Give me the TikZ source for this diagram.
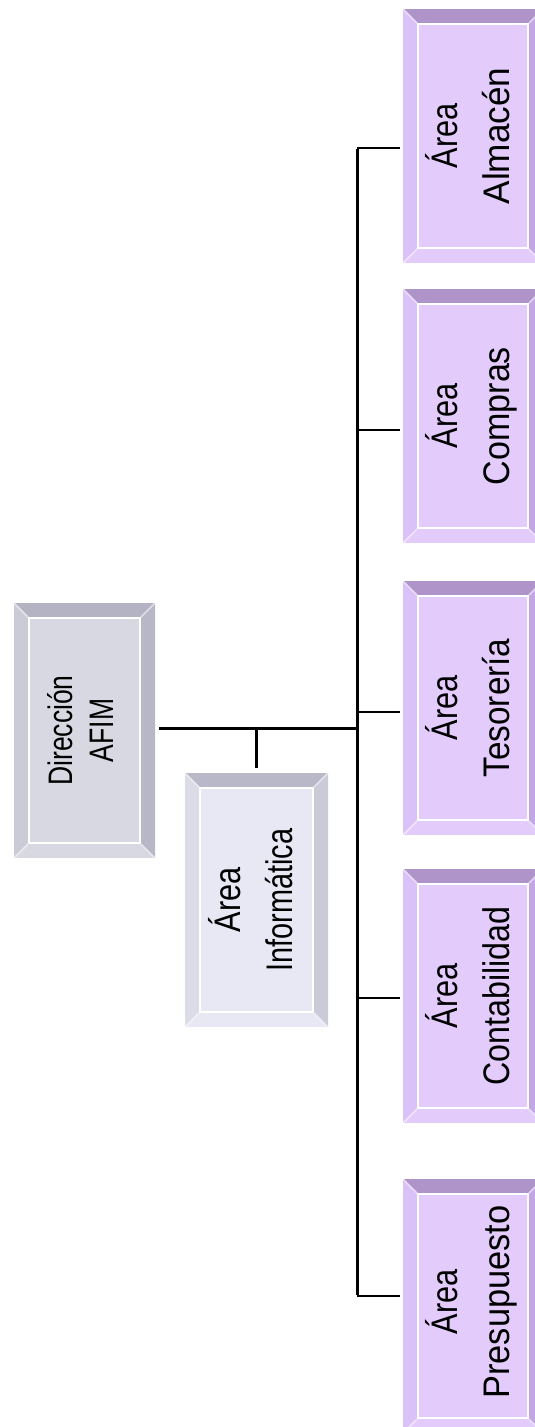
\documentclass[tikz,border=0pt]{standalone}
\usepackage{fontspec}
\setmainfont{Liberation Sans}
\usepackage{graphicx}

% palette of the bevelled boxes
\definecolor{pFill}{HTML}{E3CCFC}
\definecolor{pTop}{HTML}{AF94CA}
\definecolor{pLeft}{HTML}{DAC2F8}
\definecolor{pRight}{HTML}{C3A7E5}
\definecolor{gFill}{HTML}{D8D8E2}
\definecolor{gTop}{HTML}{B3B3C3}
\definecolor{gLeft}{HTML}{CBCBD8}
\definecolor{gRight}{HTML}{B7B7C7}
\definecolor{lFill}{HTML}{E8E8F4}
\definecolor{lTop}{HTML}{B8B8C8}
\definecolor{lLeft}{HTML}{DCDCE8}
\definecolor{lRight}{HTML}{CACAD8}

% bevelled frame: x1, y1, x2, y2, palette prefix
\newcommand\bevelframe[5]{%
  \fill[#5Fill] (#1,#2) rectangle (#3,#4);
  \fill[#5Top] (#1,#2) -- (#3,#2) -- ({#3-14},{#2+14}) -- ({#1+14},{#2+14}) -- cycle;
  \fill[#5Left] (#1,#2) -- ({#1+14},{#2+14}) -- ({#1+14},{#4-14}) -- (#1,#4) -- cycle;
  \fill[#5Right] (#3,#2) -- ({#3-14},{#2+14}) -- ({#3-14},{#4-14}) -- (#3,#4) -- cycle;
  \draw[white, line width=1.5, opacity=.55]
    (#1,#2) -- ({#1+14},{#2+14}) (#3,#2) -- ({#3-14},{#2+14})
    (#1,#4) -- ({#1+14},{#4-14}) (#3,#4) -- ({#3-14},{#4-14});
  \draw[white, line width=2] ({#1+15},{#2+15}) rectangle ({#3-15},{#4-15});
}

% two rotated lines of box text, each line condensed on its own:
% size, line spacing, scale 1, line 1, scale 2, line 2
\newcommand\boxlabel[6]{\rotatebox{90}{%
  \fontsize{#1}{#2}\selectfont
  \begin{tabular}{@{}c@{}}\scalebox{#3}[1]{#4}\\\scalebox{#5}[1]{#6}\end{tabular}}}
\newcommand\arealabel[2]{\boxlabel{37}{52}{0.83}{Área}{#1}{#2}}

\tikzset{
  unit/.style={rectangle, draw=none, inner sep=0pt,
    minimum width=140pt, minimum height=254pt},
  spine/.style={line width=3pt, black},
  branch/.style={line width=2pt, black, shorten >=3pt},
}

\begin{document}
\begin{tikzpicture}[x=1pt, y=-1pt]
  \useasboundingbox (0,0) rectangle (535,1427);
  \clip (0,0) rectangle (535,1427);

  % frames
  \bevelframe{14}{603}{155}{858}{g}
  \bevelframe{185}{773}{328}{1027}{l}
  \bevelframe{403}{9}{543}{263}{p}
  \bevelframe{403}{289}{543}{543}{p}
  \bevelframe{403}{581}{543}{835}{p}
  \bevelframe{403}{869}{543}{1123}{p}
  \bevelframe{403}{1179}{543}{1433}{p}

  % units
  \node[unit, minimum width=141pt, minimum height=255pt] (dir) at (84.5,730.5)
    {\boxlabel{34}{41}{0.78}{Dirección}{0.78}{AFIM}};
  \node[unit, minimum width=143pt] (inf) at (256.5,900) {\arealabel{0.78}{Informática}};
  \node[unit] (alm) at (473,136) {\arealabel{0.95}{Almacén}};
  \node[unit] (com) at (473,416) {\arealabel{0.92}{Compras}};
  \node[unit] (tes) at (473,708) {\arealabel{0.9}{Tesorería}};
  \node[unit] (cont) at (473,996) {\arealabel{0.87}{Contabilidad}};
  \node[unit] (pre) at (473,1302) {\arealabel{0.93}{Presupuesto}};

  % junction points on the spine
  \coordinate (j) at (357,728);
  \coordinate (bA) at (357,148);
  \coordinate (bC) at (357,430);
  \coordinate (bT) at (357,712);
  \coordinate (bK) at (357,998);
  \coordinate (bP) at (357,1296);

  % connectors
  \draw[spine] ([yshift=-1pt]bA) -- ([yshift=1pt]bP);
  \draw[spine, shorten <=4pt] (j -| dir.east) -- (j);
  \draw[spine, shorten >=5pt] (inf.north |- j) -- (inf.north);
  \draw[branch] (bA) -- (bA -| alm.west);
  \draw[branch] (bC) -- (bC -| com.west);
  \draw[branch] (bT) -- (bT -| tes.west);
  \draw[branch] (bK) -- (bK -| cont.west);
  \draw[branch] (bP) -- (bP -| pre.west);
\end{tikzpicture}
\end{document}
